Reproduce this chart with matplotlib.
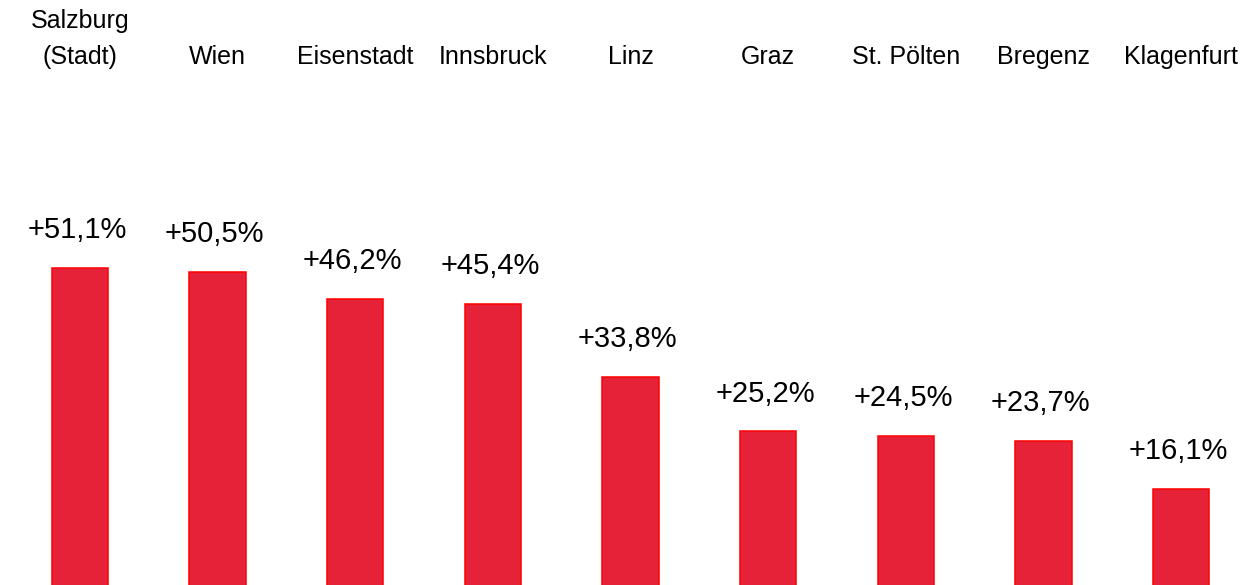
import matplotlib.pyplot as plt

plt.rcParams['font.family'] = ['Liberation Sans', 'DejaVu Sans']

# Daten
staedte = ['Salzburg\n(Stadt)', 'Wien', 'Eisenstadt', 'Innsbruck', 'Linz',
           'Graz', 'St. Pölten', 'Bregenz', 'Klagenfurt']
werte = [51.1, 50.5, 46.2, 45.4, 33.8, 25.2, 24.5, 23.7, 16.1]
labels = ['+51,1%', '+50,5%', '+46,2%', '+45,4%', '+33,8%',
          '+25,2%', '+24,5%', '+23,7%', '+16,1%']

fig = plt.figure(figsize=(12.45, 5.85), dpi=100)
ax = fig.add_axes([11 / 1245, -5 / 585, 1239 / 1245, 510 / 585])

x = range(len(staedte))
bars = ax.bar(x, werte, width=0.41, color='#E52237', edgecolor='#FF0000', linewidth=1.1)

for b, lab in zip(bars, labels):
    ax.annotate(lab, (b.get_x() + b.get_width() / 2, b.get_height()),
                xytext=(-2, 17), textcoords='offset points',
                ha='center', va='bottom', fontsize=21, color='black')

ax.set_xlim(-0.5, len(staedte) - 0.5)
ax.set_ylim(0, 510 / 6.3)
ax.xaxis.tick_top()
ax.set_xticks(list(x))
ax.set_xticklabels(staedte, fontsize=18, linespacing=1.65)
ax.tick_params(axis='x', length=0, pad=8)
ax.set_yticks([])
for s in ax.spines.values():
    s.set_visible(False)

fig.savefig('out.png', dpi=100)
